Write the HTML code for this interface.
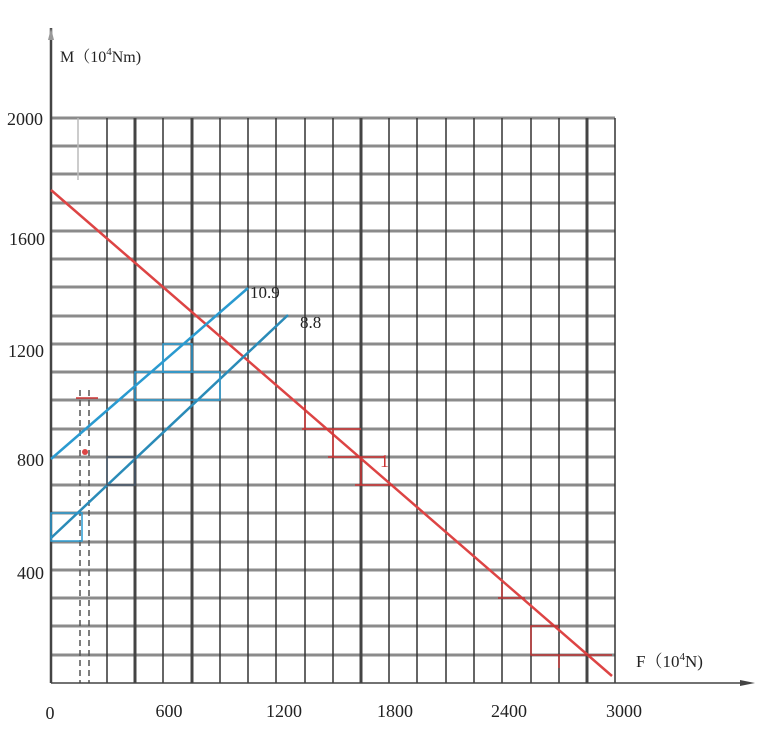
<!DOCTYPE html>
<html><head><meta charset="utf-8"><style>
body{margin:0;background:#fff}
text{font-family:"Liberation Serif","Noto Serif CJK SC",serif;fill:#222}
</style></head><body>
<svg width="769" height="727" viewBox="0 0 769 727" xmlns="http://www.w3.org/2000/svg">
<g stroke="#777" stroke-width="3" opacity="0.85">
<line x1="51" y1="118" x2="615" y2="118"/><line x1="51" y1="146" x2="615" y2="146"/><line x1="51" y1="174" x2="615" y2="174"/><line x1="51" y1="203" x2="615" y2="203"/><line x1="51" y1="231" x2="615" y2="231"/><line x1="51" y1="259" x2="615" y2="259"/><line x1="51" y1="287" x2="615" y2="287"/><line x1="51" y1="316" x2="615" y2="316"/><line x1="51" y1="344" x2="615" y2="344"/><line x1="51" y1="372" x2="615" y2="372"/><line x1="51" y1="400" x2="615" y2="400"/><line x1="51" y1="429" x2="615" y2="429"/><line x1="51" y1="457" x2="615" y2="457"/><line x1="51" y1="485" x2="615" y2="485"/><line x1="51" y1="513" x2="615" y2="513"/><line x1="51" y1="542" x2="615" y2="542"/><line x1="51" y1="570" x2="615" y2="570"/><line x1="51" y1="598" x2="615" y2="598"/><line x1="51" y1="626" x2="615" y2="626"/><line x1="51" y1="655" x2="615" y2="655"/>
</g>
<g stroke="#333" stroke-width="1.5">
<line x1="107" y1="118" x2="107" y2="683"/><line x1="163" y1="118" x2="163" y2="683"/><line x1="220" y1="118" x2="220" y2="683"/><line x1="248" y1="118" x2="248" y2="683"/><line x1="276" y1="118" x2="276" y2="683"/><line x1="305" y1="118" x2="305" y2="683"/><line x1="333" y1="118" x2="333" y2="683"/><line x1="389" y1="118" x2="389" y2="683"/><line x1="417" y1="118" x2="417" y2="683"/><line x1="446" y1="118" x2="446" y2="683"/><line x1="474" y1="118" x2="474" y2="683"/><line x1="502" y1="118" x2="502" y2="683"/><line x1="531" y1="118" x2="531" y2="683"/><line x1="559" y1="118" x2="559" y2="683"/><line x1="615" y1="118" x2="615" y2="683"/>
</g>
<g stroke="#444" stroke-width="3">
<line x1="135" y1="118" x2="135" y2="683"/><line x1="192" y1="118" x2="192" y2="683"/><line x1="361" y1="118" x2="361" y2="683"/><line x1="587" y1="118" x2="587" y2="683"/>
</g>
<line x1="78" y1="118" x2="78" y2="180" stroke="#bbb" stroke-width="1.5"/>
<g stroke="#555" stroke-width="1.5" stroke-dasharray="6,4">
<line x1="80" y1="390" x2="80" y2="683"/><line x1="89" y1="390" x2="89" y2="683"/>
</g>
<line x1="51" y1="28" x2="51" y2="683" stroke="#444" stroke-width="2.5"/>
<line x1="51" y1="683" x2="750" y2="683" stroke="#444" stroke-width="1.5"/>
<polygon points="740,680 755,683 740,686" fill="#444"/>
<polygon points="48,40 51,28 54,40" fill="#999"/>
<line x1="51" y1="190" x2="612" y2="676" stroke="#d44" stroke-width="2.5"/>
<line x1="51" y1="459" x2="248" y2="288" stroke="#2a9ad0" stroke-width="2.5"/>
<line x1="51" y1="538" x2="288" y2="315" stroke="#2a8bb8" stroke-width="2.5"/>
<g fill="none" stroke-width="1.5">
<rect x="163" y="344" width="29" height="28" stroke="#2a9ad0"/>
<rect x="135" y="372" width="85" height="28" stroke="#2a9ad0"/>
<rect x="107" y="457" width="28" height="28" stroke="#456"/>
<rect x="51" y="513" width="31" height="28" stroke="#2a9ad0"/>
<path d="M302 429 H361 M333 429 V457 M361 457 V485 M328 457 H385 M355 485 H393 M305 405 V429" stroke="#c33"/>
<path d="M498 598 H525 M502 584 V598 M559 626 H531 V655 H559 M559 655 V668 M559 655 H612" stroke="#b33"/>
<path d="M76 398 H98" stroke="#c33"/>
</g>
<circle cx="85" cy="452" r="3" fill="#d44"/>
<text x="60" y="62" font-size="16">M（10<tspan font-size="11" dy="-7">4</tspan><tspan dy="7">Nm)</tspan></text>
<text x="636" y="667" font-size="17">F（10<tspan font-size="11" dy="-7">4</tspan><tspan dy="7">N)</tspan></text>
<text x="250" y="298" font-size="17">10.9</text>
<text x="300" y="328" font-size="17">8.8</text>
<text x="380" y="467" font-size="18" style="fill:#c33">1</text>
<g font-size="18" text-anchor="end">
<text x="43" y="125">2000</text><text x="45" y="245">1600</text><text x="44" y="357">1200</text><text x="44" y="466">800</text><text x="44" y="579">400</text>
</g>
<g font-size="18" text-anchor="middle">
<text x="50" y="719">0</text><text x="169" y="717">600</text><text x="284" y="717">1200</text><text x="395" y="717">1800</text><text x="509" y="717">2400</text><text x="624" y="717">3000</text>
</g>
</svg>
</body></html>
